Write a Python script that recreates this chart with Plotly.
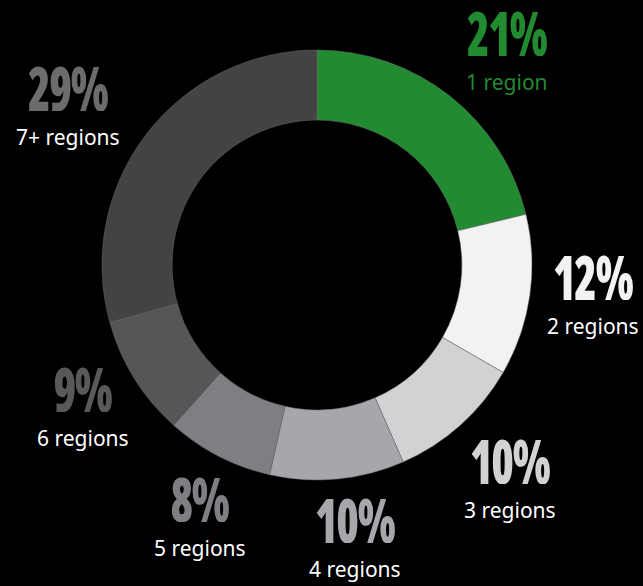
import math
import plotly.graph_objects as go

categories = ["1 region", "2 regions", "3 regions", "4 regions", "5 regions", "6 regions", "7+ regions"]
shares = [21, 12, 10, 10, 8, 9, 29]
slice_colors = ["#228b31", "#f2f2f2", "#d1d2d4", "#a6a7aa", "#7e7f82", "#555658", "#434343"]
pct_colors = ["#228b31", "#f2f2f2", "#d1d2d4", "#a6a7aa", "#7e7f82", "#58595b", "#6b6c6e"]
label_colors = ["#228b31", "#ffffff", "#ffffff", "#ffffff", "#ffffff", "#ffffff", "#ffffff"]

# label placement tweaks (layout only): angle nudge (deg) and distance from centre (px)
angle_nudge = [4.3, -0.6, 0.7, -2.2, -3.0, -0.7, -5.9]
label_dist = [281, 278, 293, 283, 284, 277, 292]

W, H = 643, 586
L, T, S = 102, 50, 430  # square plot area holding the donut
R, B = W - L - S, H - T - S

fig = go.Figure(go.Pie(
    labels=categories, values=shares, hole=0.674, sort=False,
    direction="clockwise", rotation=0,
    marker=dict(colors=slice_colors, line=dict(width=0.5, color="#6a6a6a")),
    textinfo="none", hoverinfo="label+value", showlegend=False,
))

cx, cy = L + S / 2, T + S / 2
pct_font = "Open Sans, sans-serif"
total = sum(shares)
cum = 0
for i, (cat, v, pc, lc) in enumerate(zip(categories, shares, pct_colors, label_colors)):
    mid = (cum + v / 2) / total * 360 + angle_nudge[i]
    cum += v
    a = math.radians(mid)
    px = cx + label_dist[i] * math.sin(a)
    py = cy - label_dist[i] * math.cos(a)
    xp = (px - L) / S
    fig.add_annotation(
        x=xp, y=1 - (py - 26 - T) / S, xref="paper", yref="paper",
        text=f"<span style='font-stretch:75%;font-weight:800;letter-spacing:-2px'>{v}%</span>",
        showarrow=False, font=dict(family=pct_font, size=62, color=pc),
        height=48, valign="middle",
        xanchor="center", yanchor="middle")
    fig.add_annotation(
        x=xp, y=1 - (py + 24 - T) / S, xref="paper", yref="paper",
        text=cat, showarrow=False,
        font=dict(family="Noto Sans, Open Sans, sans-serif", size=21, color=lc),
        height=26, valign="middle",
        xanchor="center", yanchor="middle")

fig.update_layout(
    width=W, height=H, paper_bgcolor="#000000", plot_bgcolor="#000000",
    margin=dict(l=L, r=R, t=T, b=B),
)

# narrow the heavy percentage figures horizontally (condensed display face look)
squeeze = """
var gd = document.getElementById('{plot_id}');
gd.querySelectorAll('.annotation-text').forEach(function(t){
  if (t.textContent.indexOf('%') >= 0) {
    t.style.transformBox = 'fill-box';
    t.style.transformOrigin = 'center';
    t.style.transform = 'scaleX(0.74)';
  }
});
"""
fig.write_html("out.html", post_script=squeeze)
